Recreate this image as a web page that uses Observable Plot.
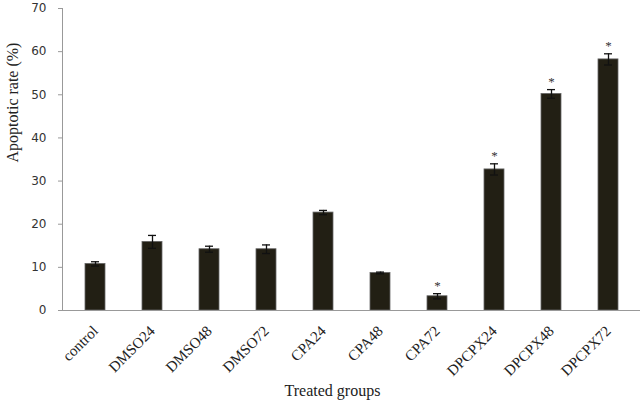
<!DOCTYPE html>
<html>
<head>
<meta charset="utf-8">
<script src="https://cdn.jsdelivr.net/npm/d3@7"></script>
<script src="https://cdn.jsdelivr.net/npm/@observablehq/plot@0.6"></script>
<style>
  html, body { margin: 0; padding: 0; background: #fff; }
  #chart svg { display: block; }
</style>
</head>
<body>
<div id="chart"></div>
<script>
const groups = ["control", "DMSO24", "DMSO48", "DMSO72", "CPA24", "CPA48", "CPA72", "DPCPX24", "DPCPX48", "DPCPX72"];
const rates = [10.8, 15.9, 14.2, 14.2, 22.7, 8.7, 3.3, 32.7, 50.2, 58.2];
const errors = [0.5, 1.5, 0.7, 1.0, 0.5, 0.2, 0.6, 1.3, 1.0, 1.3];
const significant = [false, false, false, false, false, false, true, true, true, true];
const yTicks = [0, 10, 20, 30, 40, 50, 60, 70];
const xTitle = "Treated groups";
const yTitle = "Apoptotic rate (%)";

const data = groups.map((g, i) => ({group: g, rate: rates[i], err: errors[i], sig: significant[i]}));
const sigData = data.filter(d => d.sig);

const plot = Plot.plot({
  width: 644,
  height: 404,
  marginLeft: 62,
  marginRight: 4,
  marginTop: 8,
  marginBottom: 94,
  style: {background: "#fff", overflow: "visible"},
  x: {domain: groups, paddingInner: 0.65, paddingOuter: 0.325, label: null},
  y: {domain: [0, 70], label: null},
  marks: [
    Plot.axisY({
      ticks: yTicks, tickSize: 4, tickPadding: 12, stroke: "#999",
      fontFamily: "DejaVu Sans", fontSize: 12, fill: "#333", label: null
    }),
    Plot.axisX({
      tickSize: 0, tickPadding: 18, tickRotate: -45,
      fontFamily: "Liberation Serif", fontSize: 15, fill: "#222", label: null
    }),
    Plot.frame({anchor: "left", stroke: "#999"}),
    Plot.barY(data, {x: "group", y: "rate", fill: "#221f14", stroke: "#666", strokeWidth: 0.8}),
    Plot.ruleX(data, {x: "group", y1: d => d.rate - d.err, y2: d => d.rate + d.err, stroke: "#111", strokeWidth: 1.3}),
    Plot.tickY(data, {x: "group", y: d => d.rate + d.err, stroke: "#111", strokeWidth: 1.3, inset: 6}),
    Plot.tickY(data, {x: "group", y: d => d.rate - d.err, stroke: "#111", strokeWidth: 1.3, inset: 6}),
    Plot.ruleY([0], {stroke: "#999"}),
    Plot.text(sigData, {x: "group", y: d => d.rate + d.err, text: () => "*", dy: -8, fontFamily: "Liberation Serif", fontSize: 13, fill: "#333"}),
    Plot.text([xTitle], {text: d => d, frameAnchor: "bottom", dy: 85, dx: -19, fontFamily: "Liberation Serif", fontSize: 16, fill: "#222"}),
    Plot.text([yTitle], {text: d => d, frameAnchor: "left", dx: -50, rotate: -90, dy: 3, fontFamily: "Liberation Serif", fontSize: 16, fill: "#222"})
  ]
});
document.getElementById("chart").appendChild(plot);
</script>
</body>
</html>
